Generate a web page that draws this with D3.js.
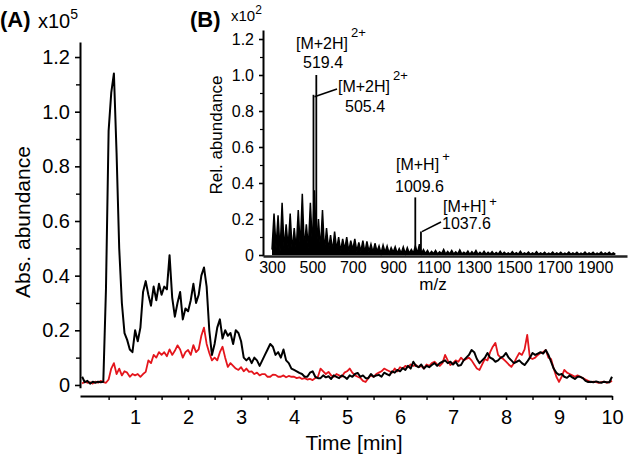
<!DOCTYPE html>
<html><head><meta charset="utf-8">
<script src="https://cdn.jsdelivr.net/npm/d3@7/dist/d3.min.js"></script>
<style>
body{margin:0;background:#fff;}
svg{display:block;font-family:"Liberation Sans",Arial,sans-serif;}
</style></head><body>
<svg id="c" width="628" height="461"></svg>
<script>
// ---------- DATA ----------
// Chromatogram time grid (min) – sampled every 0.05 min
const timeStart = 0, timeStep = 0.05;
// Black trace (x10^5)
const blackTrace = [
0.03,0.01,0.015,0.005,0.012,0.008,0.012,0.01,0.012,0.35,
0.93,1.07,1.14,0.85,0.5,0.3,0.19,0.165,0.13,0.12,
0.2,0.16,0.21,0.34,0.38,0.33,0.29,0.36,0.31,0.37,
0.33,0.36,0.35,0.475,0.32,0.25,0.30,0.34,0.24,0.28,
0.27,0.31,0.37,0.30,0.33,0.40,0.43,0.36,0.2,0.11,
0.15,0.21,0.24,0.17,0.20,0.18,0.19,0.15,0.2,0.19,
0.16,0.10,0.09,0.10,0.08,0.10,0.09,0.07,0.09,0.11,
0.13,0.15,0.14,0.11,0.12,0.10,0.13,0.09,0.08,0.06,
0.055,0.05,0.044,0.04,0.03,0.03,0.045,0.05,0.03,0.025,
0.025,0.035,0.028,0.032,0.022,0.035,0.03,0.025,0.035,0.03,
0.022,0.035,0.03,0.04,0.044,0.03,0.035,0.025,0.025,0.04,
0.03,0.035,0.037,0.03,0.045,0.04,0.035,0.05,0.045,0.055,
0.05,0.062,0.055,0.07,0.06,0.085,0.07,0.065,0.075,0.06,
0.07,0.065,0.073,0.08,0.07,0.08,0.085,0.09,0.08,0.085,
0.075,0.085,0.07,0.073,0.09,0.10,0.11,0.128,0.12,0.095,
0.08,0.09,0.10,0.117,0.10,0.095,0.085,0.09,0.10,0.105,
0.117,0.10,0.09,0.08,0.085,0.09,0.08,0.073,0.085,0.10,
0.117,0.11,0.115,0.12,0.115,0.128,0.11,0.085,0.06,0.045,
0.037,0.04,0.03,0.026,0.035,0.028,0.022,0.03,0.03,0.025,
0.015,0.011,0.012,0.01,0.013,0.01,0.008,0.012,0.01,0.01,
0.03];
// Red trace (x10^5)
const redTrace = [
0.005,0.012,0.008,0.01,0.005,0.012,0.008,0.015,0.01,0.008,
0.02,0.06,0.08,0.04,0.06,0.035,0.05,0.045,0.03,0.04,
0.035,0.04,0.03,0.04,0.048,0.09,0.08,0.11,0.1,0.12,
0.11,0.12,0.105,0.13,0.11,0.125,0.145,0.13,0.1,0.12,
0.128,0.11,0.146,0.12,0.13,0.18,0.21,0.15,0.117,0.09,
0.1,0.09,0.12,0.14,0.1,0.066,0.08,0.07,0.06,0.055,
0.065,0.05,0.06,0.048,0.05,0.04,0.045,0.035,0.04,0.04,
0.03,0.03,0.038,0.037,0.03,0.03,0.035,0.028,0.033,0.03,
0.03,0.025,0.028,0.022,0.025,0.02,0.022,0.018,0.025,0.03,
0.06,0.05,0.04,0.048,0.035,0.03,0.04,0.035,0.03,0.045,
0.05,0.06,0.045,0.035,0.03,0.026,0.015,0.011,0.025,0.035,
0.03,0.04,0.045,0.05,0.06,0.055,0.05,0.045,0.06,0.05,
0.065,0.06,0.07,0.065,0.075,0.07,0.073,0.065,0.07,0.06,
0.075,0.07,0.08,0.085,0.075,0.07,0.08,0.11,0.09,0.073,
0.08,0.09,0.085,0.1,0.09,0.095,0.1,0.09,0.075,0.06,
0.055,0.075,0.095,0.09,0.12,0.14,0.154,0.11,0.1,0.095,
0.085,0.075,0.066,0.08,0.1,0.117,0.11,0.13,0.183,0.1,
0.095,0.1,0.11,0.117,0.12,0.128,0.1,0.095,0.06,0.03,
0.011,0.03,0.055,0.045,0.04,0.035,0.03,0.035,0.03,0.025,
0.02,0.015,0.01,0.012,0.01,0.008,0.01,0.012,0.008,0.01,
0.015];
const timeTicks = [1,2,3,4,5,6,7,8,9,10];
const absTicks = [0,0.2,0.4,0.6,0.8,1.0,1.2];

// Mass spectrum (inset) – profile sampled every 10 m/z from 300
const mzStart = 300, mzStep = 10;
const spectrum = [
0.03,0.23,0.04,0.22,0.02,0.29,0.03,0.17,0.04,0.23,
0.02,0.15,0.03,0.25,0.04,0.34,0.03,0.17,0.04,0.29,
0.05,0.36,0.04,0.2,0.03,0.25,0.02,0.15,0.03,0.11,
0.02,0.13,0.03,0.1,0.02,0.09,0.03,0.1,0.02,0.08,
0.03,0.09,0.02,0.07,0.02,0.08,0.015,0.075,0.02,0.06,
0.015,0.065,0.02,0.05,0.01,0.055,0.015,0.05,0.01,0.04,
0.015,0.045,0.01,0.035,0.01,0.045,0.008,0.04,0.01,0.03,
0.01,0.05,0.01,0.06,0.008,0.03,0.008,0.025,0.005,0.02,
0.008,0.025,0.005,0.018,0.008,0.03,0.005,0.02,0.006,0.025,
0.005,0.018,0.006,0.028,0.005,0.015,0.006,0.022,0.004,0.018,
0.006,0.025,0.004,0.015,0.005,0.02,0.004,0.015,0.005,0.018,
0.004,0.014,0.005,0.02,0.004,0.015,0.005,0.012,0.004,0.018,
0.005,0.013,0.004,0.02,0.004,0.012,0.005,0.016,0.004,0.012,
0.005,0.018,0.004,0.012,0.005,0.015,0.004,0.011,0.005,0.016,
0.004,0.012,0.005,0.015,0.004,0.011,0.005,0.016,0.004,0.012,
0.005,0.015,0.004,0.011,0.005,0.016,0.004,0.012,0.005,0.015,
0.004,0.011,0.005,0.016,0.004,0.012,0.005,0.015,0.004,0.012,
0.005];
const peakMz = [505.4, 519.4, 1009.6, 1037.6];
const peakRel = [0.89, 1.0, 0.32, 0.13];
const mzTicks = [300,500,700,900,1100,1300,1500,1700,1900];
const relTicks = [0,0.2,0.4,0.6,0.8,1.0,1.2];

// ---------- DRAW ----------
const svg = d3.select("#c");
const FONT = '"Liberation Sans",Arial,sans-serif';
const RED = "#e4151c";

// main scales
const x = d3.scaleLinear().domain([-0.04,10]).range([80,612]);
const y = d3.scaleLinear().domain([-0.01,1.255]).range([387.7,42]);
const times = blackTrace.map((_,i)=>timeStart + i*timeStep);

function styleAxis(g, fs){
  g.selectAll("path.domain").attr("stroke","#000").attr("stroke-width",2);
  g.selectAll(".tick line").attr("stroke","#000").attr("stroke-width",1.6);
  g.selectAll(".tick text").attr("font-family",FONT).attr("font-size",fs).attr("fill","#000");
}

// main y axis
const gy = svg.append("g").attr("transform","translate(80,0)")
  .call(d3.axisLeft(y).tickValues(absTicks).tickSize(5).tickSizeOuter(0).tickPadding(5)
    .tickFormat(d=> d===0 ? "0" : d.toFixed(1)));
styleAxis(gy, 20);
svg.append("g").attr("transform","translate(80,0)")
  .call(d3.axisLeft(y).tickValues([0.1,0.3,0.5,0.7,0.9,1.1]).tickSize(4).tickSizeOuter(0).tickFormat(""))
  .call(g=>{g.select(".domain").remove(); g.selectAll("line").attr("stroke","#000").attr("stroke-width",1.4);});

// main x axis
const gx = svg.append("g").attr("transform","translate(0,396)")
  .call(d3.axisBottom(x).tickValues(timeTicks).tickSize(4).tickSizeOuter(0).tickPadding(10));
styleAxis(gx, 20);
svg.append("g").attr("transform","translate(0,396)")
  .call(d3.axisBottom(x).tickValues([0.5,1.5,2.5,3.5,4.5,5.5,6.5,7.5,8.5,9.5]).tickSize(4).tickSizeOuter(0).tickFormat(""))
  .call(g=>{g.select(".domain").remove(); g.selectAll("line").attr("stroke","#000").attr("stroke-width",1.4);});

// traces
const line = d3.line().x((d,i)=>x(times[i])).y(d=>y(d));
svg.append("path").datum(redTrace).attr("d",line).attr("fill","none")
  .attr("stroke",RED).attr("stroke-width",1.8).attr("stroke-linejoin","round");
svg.append("path").datum(blackTrace).attr("d",line).attr("fill","none")
  .attr("stroke","#000").attr("stroke-width",2).attr("stroke-linejoin","round");

// main labels
svg.append("text").attr("x",0).attr("y",27).attr("font-family",FONT).attr("font-size",22)
  .attr("font-weight","bold").text("(A)");
const tA = svg.append("text").attr("x",38).attr("y",28).attr("font-family",FONT).attr("font-size",20).text("x10");
tA.append("tspan").attr("dy",-9).attr("font-size",14).text("5");
svg.append("text").attr("transform","translate(30,222) rotate(-90)").attr("text-anchor","middle")
  .attr("font-family",FONT).attr("font-size",21).text("Abs. abundance");
svg.append("text").attr("x",354).attr("y",450).attr("text-anchor","middle")
  .attr("font-family",FONT).attr("font-size",21).text("Time [min]");

// ---------- INSET ----------
const xi = d3.scaleLinear().domain([255.4,2058]).range([263,627]);
const yi = d3.scaleLinear().domain([-0.005,1.25]).range([255.9,30]);
const mzs = spectrum.map((_,i)=>mzStart + i*mzStep);

const giy = svg.append("g").attr("transform","translate(263,0)")
  .call(d3.axisLeft(yi).tickValues(relTicks).tickSize(4).tickSizeOuter(0).tickPadding(5)
    .tickFormat(d=> d===0 ? "0" : d.toFixed(1)));
styleAxis(giy, 16);
svg.append("g").attr("transform","translate(263,0)")
  .call(d3.axisLeft(yi).tickValues([0.1,0.3,0.5,0.7,0.9,1.1]).tickSize(3).tickSizeOuter(0).tickFormat(""))
  .call(g=>{g.select(".domain").remove(); g.selectAll("line").attr("stroke","#000").attr("stroke-width",1.2);});

// spectrum
const sarea = d3.area().x((d,i)=>xi(mzs[i])).y0(yi(0)).y1(d=>yi(d));
const sline = d3.line().x((d,i)=>xi(mzs[i])).y(d=>yi(d));
svg.append("path").datum(spectrum).attr("d",sarea).attr("fill","#000");
svg.append("path").datum(spectrum).attr("d",sline).attr("fill","none")
  .attr("stroke","#000").attr("stroke-width",1.5).attr("stroke-linejoin","miter");
svg.append("g").selectAll("line").data(peakMz).join("line")
  .attr("x1",d=>xi(d)).attr("x2",d=>xi(d))
  .attr("y1",yi(0)).attr("y2",(d,i)=>yi(peakRel[i]))
  .attr("stroke","#000").attr("stroke-width",1.8);

const gix = svg.append("g").attr("transform","translate(0,256)")
  .call(d3.axisBottom(xi).tickValues(mzTicks).tickSize(0).tickSizeOuter(0).tickPadding(6)
    .tickFormat(d3.format("d")));
styleAxis(gix, 16);
gix.select("path.domain").attr("stroke","#222").attr("stroke-width",2.5);

// inset labels
svg.append("text").attr("x",190).attr("y",27).attr("font-family",FONT).attr("font-size",22)
  .attr("font-weight","bold").text("(B)");
const tB = svg.append("text").attr("x",231).attr("y",21).attr("font-family",FONT).attr("font-size",15).text("x10");
tB.append("tspan").attr("dy",-7).attr("font-size",12).text("2");
svg.append("text").attr("transform","translate(222,135) rotate(-90)").attr("text-anchor","middle")
  .attr("font-family",FONT).attr("font-size",17).text("Rel. abundance");
svg.append("text").attr("x",433).attr("y",290).attr("text-anchor","middle")
  .attr("font-family",FONT).attr("font-size",17).text("m/z");

// annotations
function ann(xp, yp, main, sup, supDy, num, numY){
  const t = svg.append("text").attr("x",xp).attr("y",yp).attr("font-family",FONT).attr("font-size",16).text(main);
  t.append("tspan").attr("dy",supDy).attr("dx",3).attr("font-size",13).text(sup);
  svg.append("text").attr("x",xp + (num.length>5?-1:7)).attr("y",numY).attr("font-family",FONT).attr("font-size",16).text(num);
}
ann(296, 49, "[M+2H]", "2+", -12, "519.4", 68);
ann(338, 92, "[M+2H]", "2+", -12, "505.4", 112);
ann(396, 170, "[M+H]", "+", -9, "1009.6", 192);
ann(443, 212, "[M+H]", "+", -6, "1037.6", 229);
// leader lines
svg.append("line").attr("x1",xi(peakMz[0])+1).attr("y1",yi(peakRel[0])+2).attr("x2",337).attr("y2",89)
  .attr("stroke","#000").attr("stroke-width",1.6);
svg.append("line").attr("x1",xi(peakMz[3])+1).attr("y1",yi(peakRel[3])).attr("x2",441).attr("y2",222)
  .attr("stroke","#000").attr("stroke-width",1.6);
</script>
</body></html>
